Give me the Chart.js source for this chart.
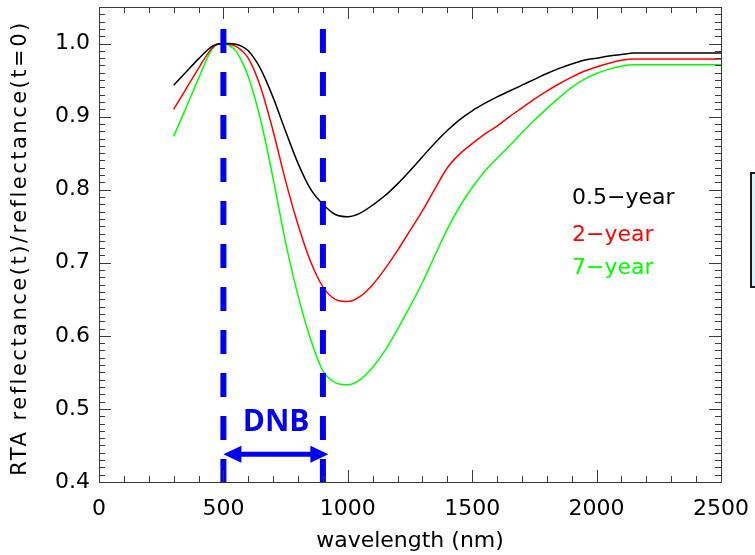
<!DOCTYPE html>
<html>
<head>
<meta charset="utf-8">
<script src="https://cdn.jsdelivr.net/npm/chart.js@4.4.1/dist/chart.umd.min.js"></script>
<style>
html,body{margin:0;padding:0;background:#fff;}
#wrap{position:relative;width:755px;height:555px;overflow:hidden;}
#side{position:absolute;left:750px;top:172px;width:30px;height:112px;border:2px solid #1a1a1a;background:#dbf1f4;}
</style>
</head>
<body>
<div id="wrap">
<canvas id="c" width="755" height="555"></canvas>
<div id="side"></div>
</div>
<script>

/* data */
const wavelengths = [300,350,400,450,475,500,525,550,575,600,650,700,750,800,850,900,
   950,1000,1050,1100,1150,1200,1250,1300,1350,1400,1450,1500,1550,1600,1650,1700,
   1750,1800,1850,1900,1950,2000,2050,2100,2150,2200,2300,2400,2500];

const halfYear = [0.943,0.961,0.979,0.995,0.999,1.000,1.000,0.999,0.996,0.990,0.965,0.926,
   0.880,0.836,0.801,0.780,0.766,0.763,0.768,0.779,0.792,0.808,0.826,0.845,0.864,0.881,
   0.896,0.908,0.918,0.927,0.935,0.943,0.951,0.959,0.966,0.972,0.977,0.980,0.983,0.985,
   0.987,0.987,0.987,0.987,0.987];

const twoYear = [0.910,0.938,0.966,0.992,0.999,1.000,0.999,0.996,0.990,0.980,0.940,0.880,
   0.812,0.752,0.702,0.667,0.650,0.647,0.654,0.670,0.692,0.717,0.744,0.771,0.801,0.830,
   0.849,0.863,0.876,0.887,0.900,0.912,0.924,0.935,0.945,0.954,0.962,0.968,0.973,0.977,
   0.979,0.979,0.979,0.979,0.979];

const sevenYear = [0.873,0.912,0.952,0.990,0.999,1.000,0.997,0.990,0.975,0.955,0.895,0.815,
   0.728,0.655,0.596,0.552,0.536,0.533,0.540,0.557,0.580,0.609,0.640,0.673,0.710,0.746,
   0.777,0.803,0.825,0.843,0.860,0.878,0.895,0.911,0.926,0.940,0.951,0.959,0.965,0.969,
   0.971,0.971,0.971,0.971,0.971];

const seriesNames = ["0.5\u2212year","2\u2212year","7\u2212year"];
const seriesColors = ["#000000","#ff0000","#00ff00"];

const xTicks = [0,500,1000,1500,2000,2500];
const yTicks = [0.4,0.5,0.6,0.7,0.8,0.9,1.0];

/* DNB band edges */
const dnbEdges = [500,900];
const dnbTop = 1.02;

const FONT = "'DejaVu Sans', sans-serif";

function pts(ys){
   return wavelengths.map((w,i)=>({x:w, y:ys[i]}));
}

/* inward ticks on all four sides + frame */
const frameTicks = {
   id: "frameTicks",
   afterDatasetsDraw(chart){
      const {ctx, chartArea:a, scales:{x,y}} = chart;
      ctx.save();
      ctx.strokeStyle = "#3a3a3a";
      ctx.lineWidth = 1;
      ctx.beginPath();
      for(let v = 0; v <= 2500; v += 100){
         const px = Math.round(x.getPixelForValue(v)) + 0.5;
         const len = v % 500 === 0 ? 12 : 6;
         ctx.moveTo(px, a.bottom); ctx.lineTo(px, a.bottom - len);
         ctx.moveTo(px, a.top); ctx.lineTo(px, a.top + len);
      }
      for(let k = 40; k <= 105; k++){
         const py = Math.round(y.getPixelForValue(k/100)) + 0.5;
         const len = k % 10 === 0 ? 12 : 6;
         ctx.moveTo(a.left, py); ctx.lineTo(a.left + len, py);
         ctx.moveTo(a.right, py); ctx.lineTo(a.right - len, py);
      }
      ctx.stroke();
      ctx.strokeRect(Math.round(a.left)+0.5, Math.round(a.top)+0.5,
         Math.round(a.right-a.left), Math.round(a.bottom-a.top));

      /* DNB arrow */
      const ay = y.getPixelForValue(0.438);
      const x1 = x.getPixelForValue(dnbEdges[0]);
      const x2 = x.getPixelForValue(922);
      ctx.strokeStyle = "#0000f0";
      ctx.fillStyle = "#0000f0";
      ctx.lineWidth = 5;
      ctx.beginPath();
      ctx.moveTo(x1 + 10, ay); ctx.lineTo(x2 - 10, ay);
      ctx.stroke();
      ctx.beginPath();
      ctx.moveTo(x1, ay); ctx.lineTo(x1 + 18, ay - 8.5); ctx.lineTo(x1 + 18, ay + 8.5);
      ctx.closePath();
      ctx.moveTo(x2, ay); ctx.lineTo(x2 - 18, ay - 8.5); ctx.lineTo(x2 - 18, ay + 8.5);
      ctx.closePath();
      ctx.fill();

      ctx.font = "bold 30px 'Open Sans', sans-serif";
      ctx.textAlign = "center";
      ctx.textBaseline = "middle";
      ctx.fillText("DNB", x.getPixelForValue(712), y.getPixelForValue(0.481));

      /* labels of the curves */
      ctx.font = "22px " + FONT;
      ctx.textAlign = "left";
      const ly = [198,235,268];
      seriesNames.forEach((n,i)=>{
         ctx.fillStyle = seriesColors[i];
         ctx.fillText(n, 572, ly[i]);
      });

      /* y title */
      ctx.fillStyle = "#000";
      ctx.font = "21px " + FONT;
      ctx.letterSpacing = "2.5px";
      ctx.translate(21, 248);
      ctx.rotate(-Math.PI/2);
      ctx.textAlign = "center";
      ctx.fillText("RTA reflectance(t)/reflectance(t=0)", 0, 0);
      ctx.restore();
   }
};

const dashed = dnbEdges.map(w=>({
   data: [{x:w, y:dnbTop},{x:w, y:0.4}],
   borderColor: "#0000f0",
   borderWidth: 6,
   borderDash: [24,19],
   pointRadius: 0,
   order: 0
}));

const curves = [halfYear, twoYear, sevenYear].map((s,i)=>({
   label: seriesNames[i],
   data: pts(s),
   borderColor: seriesColors[i],
   borderWidth: 1.5,
   pointRadius: 0,
   cubicInterpolationMode: "monotone",
   order: 1
}));

new Chart(document.getElementById("c"), {
   type: "line",
   data: { datasets: dashed.concat(curves) },
   options: {
      responsive: false,
      animation: false,
      layout: { padding: { top: 7, right: 34, left: 0, bottom: 0 } },
      plugins: {
         legend: { display: false },
         tooltip: { enabled: false }
      },
      scales: {
         x: {
            type: "linear",
            min: 0, max: 2500,
            afterBuildTicks: s => { s.ticks = xTicks.map(v=>({value:v})); },
            afterFit: s => { s.height = 73; s.paddingLeft = 0; s.paddingRight = 0; },
            grid: { display: false, drawTicks: false },
            border: { display: false },
            ticks: { color: "#000", padding: 14, maxRotation: 0,
               font: { family: FONT, size: 22 },
               callback: v => String(v) },
            title: { display: true, text: "wavelength (nm)", color: "#000",
               font: { family: FONT, size: 22 }, padding: { top: 0, bottom: 1 } }
         },
         y: {
            min: 0.4, max: 1.05,
            afterBuildTicks: s => { s.ticks = yTicks.map(v=>({value:v})); },
            afterFit: s => { s.width = 99; s.paddingTop = 0; s.paddingBottom = 0; },
            grid: { display: false, drawTicks: false },
            border: { display: false },
            ticks: { color: "#000", padding: 9,
               font: { family: FONT, size: 22 },
               callback: v => v.toFixed(1) }
         }
      }
   },
   plugins: [frameTicks]
});

</script>
</body>
</html>
